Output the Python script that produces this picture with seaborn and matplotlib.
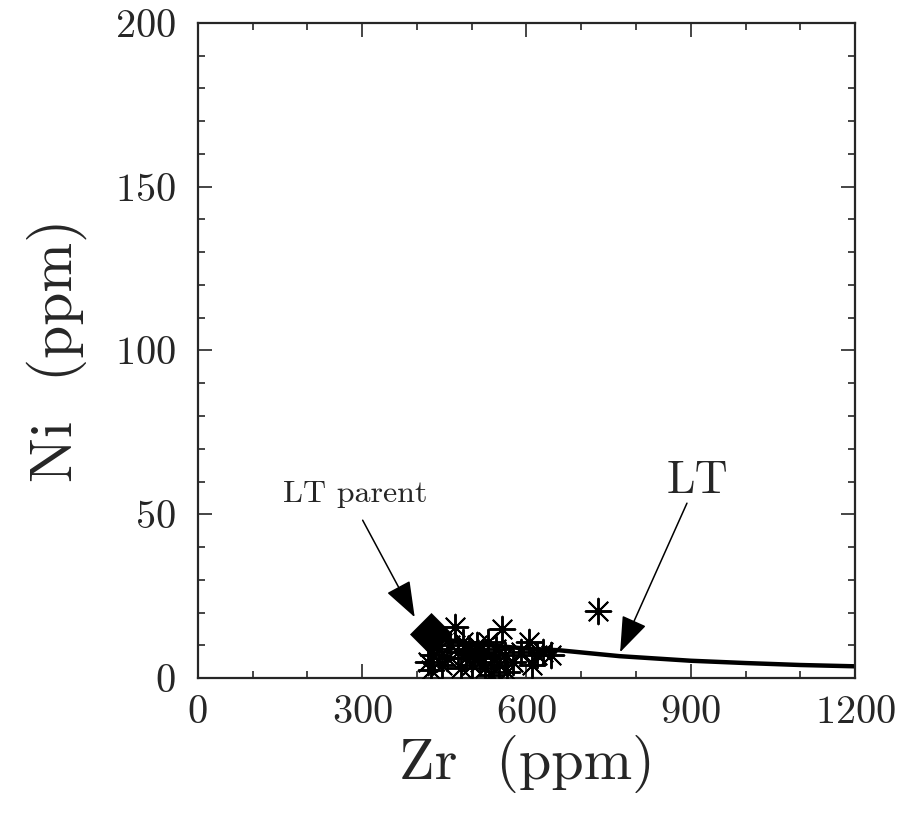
import numpy as np
import pandas as pd
import matplotlib
matplotlib.use("Agg")
import matplotlib.pyplot as plt
from matplotlib.ticker import MultipleLocator
import seaborn as sns

# LT samples (Zr, Ni in ppm)
zr = [420, 425, 430, 440, 445, 455, 460, 470, 475, 480, 485, 490, 495, 500,
      505, 510, 515, 520, 525, 530, 535, 540, 545, 550, 555, 560, 565, 575,
      590, 605, 610, 620, 630, 645, 730]
ni = [5, 2.5, 7, 9, 4, 6, 10, 15.5, 8, 3, 11, 6, 9, 4,
      7, 10, 5, 8, 3, 11, 1, 6, 9, 4, 15, 7, 2, 5,
      8, 11, 4, 7, 8, 7, 20.5]

# LT parent
parent_zr = [425]
parent_ni = [13.5]

# LT fractionation curve
curve_zr = [425, 500, 600, 660, 770, 900, 1000, 1100, 1200]
curve_ni = [12.5, 10.5, 9.0, 8.5, 6.7, 5.3, 4.6, 4.0, 3.6]

sns.set_style("ticks")
plt.rcParams["font.family"] = ["cmr10", "DejaVu Serif"]
plt.rcParams["axes.formatter.use_mathtext"] = True

samples = pd.DataFrame({"Zr": zr, "Ni": ni})
curve = pd.DataFrame({"Zr": curve_zr, "Ni": curve_ni})
parent = pd.DataFrame({"Zr": parent_zr, "Ni": parent_ni})

fig = plt.figure(figsize=(9.03, 8.17), dpi=100)
ax = fig.add_axes([0.219, 0.170, 0.728, 0.802])

sns.lineplot(data=curve, x="Zr", y="Ni", color="black", linewidth=3.2, ax=ax, zorder=2)
sns.scatterplot(data=samples, x="Zr", y="Ni", marker=(8, 2, 0), s=340,
                color="black", linewidth=1.4, ax=ax, zorder=3)
sns.scatterplot(data=parent, x="Zr", y="Ni", marker="D", s=480,
                color="black", linewidth=0, ax=ax, zorder=4)

ax.set_xlim(0, 1200)
ax.set_ylim(0, 200)
ax.xaxis.set_major_locator(MultipleLocator(300))
ax.xaxis.set_minor_locator(MultipleLocator(100))
ax.yaxis.set_major_locator(MultipleLocator(50))
ax.yaxis.set_minor_locator(MultipleLocator(10))
ax.tick_params(which="both", direction="in", top=True, right=True, labelsize=29, width=1.2)
ax.tick_params(which="major", length=10)
ax.tick_params(axis="x", which="major", pad=12)
ax.tick_params(axis="y", which="major", pad=16)
ax.tick_params(which="minor", length=5)
for s in ax.spines.values():
    s.set_linewidth(1.6)

ax.set_xlabel("Zr  (ppm)", fontsize=42, labelpad=3)
ax.set_ylabel("Ni  (ppm)", fontsize=43, labelpad=20)

arrow = dict(arrowstyle="-|>,head_length=1.5,head_width=0.55", color="black",
             lw=1.1, shrinkA=0, shrinkB=0, mutation_scale=15)
ax.annotate("", xy=(396, 18.6), xytext=(301, 48.2), arrowprops=arrow)
ax.annotate("", xy=(771, 7.9), xytext=(893, 53.4), arrowprops=arrow)
ax.text(287, 56, "LT parent", fontsize=23, ha="center", va="center")
ax.text(913, 60, "LT", fontsize=33, ha="center", va="center")

fig.savefig("out.png", dpi=100)
